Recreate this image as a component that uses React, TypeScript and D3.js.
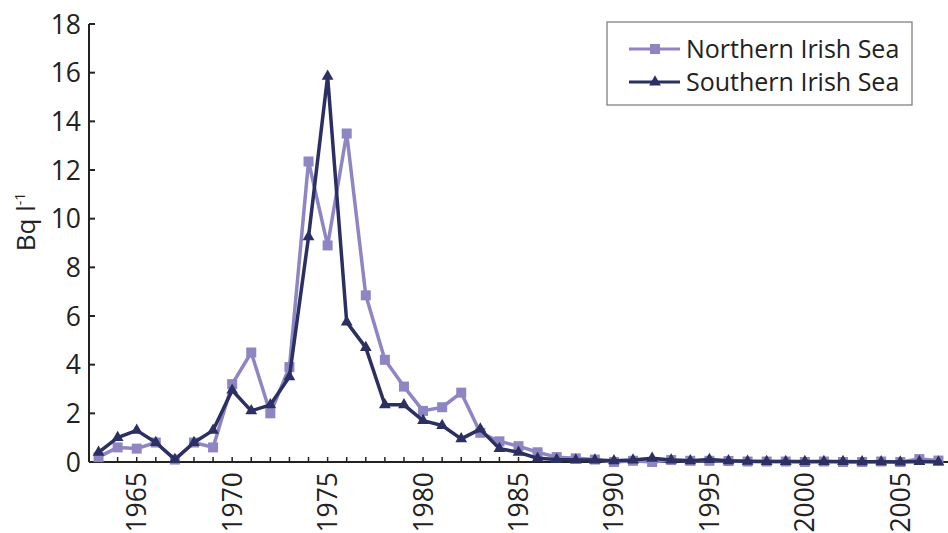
import React from "react";
import * as d3 from "d3";

const years: number[] = d3.range(1963, 2008);
const northern: number[] = [
  0.2, 0.6, 0.55, 0.8, 0.1, 0.8, 0.6, 3.2, 4.5, 2.0, 3.9, 12.35, 8.9, 13.5, 6.85,
  4.2, 3.1, 2.1, 2.25, 2.85, 1.2, 0.85, 0.65, 0.4, 0.2, 0.15, 0.1, 0.0, 0.05, 0.0,
  0.08, 0.05, 0.05, 0.04, 0.02, 0.02, 0.02, 0.0, 0.02, 0.0, 0.0, 0.02, 0.0, 0.12, 0.06,
];
const southern: number[] = [
  0.4, 1.0, 1.3, 0.8, 0.1, 0.8, 1.3, 2.95, 2.1, 2.35, 3.5, 9.25, 15.85, 5.75, 4.7,
  2.35, 2.35, 1.7, 1.5, 0.95, 1.35, 0.55, 0.4, 0.15, 0.1, 0.08, 0.08, 0.05, 0.08, 0.15,
  0.08, 0.05, 0.1, 0.05, 0.03, 0.02, 0.02, 0.02, 0.02, 0.02, 0.01, 0.01, 0.0, 0.02, 0.0,
];
const yTicks: number[] = [0, 2, 4, 6, 8, 10, 12, 14, 16, 18];
const xTickLabels: number[] = [1965, 1970, 1975, 1980, 1985, 1990, 1995, 2000, 2005];
const seriesNames: string[] = ["Northern Irish Sea", "Southern Irish Sea"];

const LIGHT = "#8d86c3";
const DARK = "#2b2f62";
const FONT = "'Open Sans', 'Noto Sans', sans-serif";

export default function App() {
  const W = 948, H = 533;
  const x = d3.scaleLinear().domain([1962.5, 2007.5]).range([89, 948]);
  const y = d3.scaleLinear().domain([0, 18]).range([462, 24]);
  const line = d3.line<number>().x((_, i) => x(years[i])).y((d) => y(d));
  const tri = d3.symbol().type(d3.symbolTriangle).size(60)();

  const square = (cx: number, cy: number, key: string | number) => (
    <rect key={key} x={cx - 5} y={cy - 5} width={10} height={10} fill={LIGHT} />
  );
  const triangle = (cx: number, cy: number, key: string | number) => (
    <path key={key} d={tri!} transform={`translate(${cx},${cy})`} fill={DARK} />
  );

  return (
    <svg width={W} height={H} style={{ position: "absolute", left: 0, top: 0, display: "block" }} fontFamily={FONT}>
      <rect width={W} height={H} fill="#fff" />
      {/* y axis */}
      <line x1={89} x2={89} y1={y(18)} y2={y(0)} stroke="#222" strokeWidth={2} />
      {yTicks.map((t) => (
        <g key={t}>
          <line x1={89} x2={95} y1={y(t)} y2={y(t)} stroke="#222" strokeWidth={2} />
          <text x={81} y={y(t)} dy="0.36em" textAnchor="end" fontSize={26.5} fill="#222">{t}</text>
        </g>
      ))}
      <text transform={`translate(35,${222}) rotate(-90)`} textAnchor="middle" fontSize={26} fill="#222">
        Bq l<tspan dy={-10} fontSize={14}>-1</tspan>
      </text>
      {/* x axis */}
      <line x1={89} x2={948} y1={y(0)} y2={y(0)} stroke="#222" strokeWidth={2} />
      {years.map((yr) => (
        <line key={yr} x1={x(yr)} x2={x(yr)} y1={y(0)} y2={y(0) - 5} stroke="#222" strokeWidth={1.5} />
      ))}
      {xTickLabels.map((yr) => (
        <text key={yr} transform={`translate(${x(yr)},${472}) rotate(-90)`} dy="0.36em" textAnchor="end" fontSize={26.5} fill="#222">{yr}</text>
      ))}
      {/* series */}
      <path d={line(northern)!} fill="none" stroke={LIGHT} strokeWidth={3.5} strokeLinejoin="round" />
      {northern.map((v, i) => square(x(years[i]), y(v), i))}
      <path d={line(southern)!} fill="none" stroke={DARK} strokeWidth={3.5} strokeLinejoin="round" />
      {southern.map((v, i) => triangle(x(years[i]), y(v), i))}
      {/* legend */}
      <rect x={607} y={22} width={305} height={83} fill="#fff" stroke="#777" strokeWidth={1.2} />
      <line x1={629} x2={680} y1={49} y2={49} stroke={LIGHT} strokeWidth={3} />
      {square(655, 49, "l1")}
      <text x={686} y={49} dy="0.36em" fontSize={25} fill="#222">{seriesNames[0]}</text>
      <line x1={629} x2={680} y1={82} y2={82} stroke={DARK} strokeWidth={3} />
      {triangle(655, 82, "l2")}
      <text x={686} y={82} dy="0.36em" fontSize={25} fill="#222">{seriesNames[1]}</text>
    </svg>
  );
}
